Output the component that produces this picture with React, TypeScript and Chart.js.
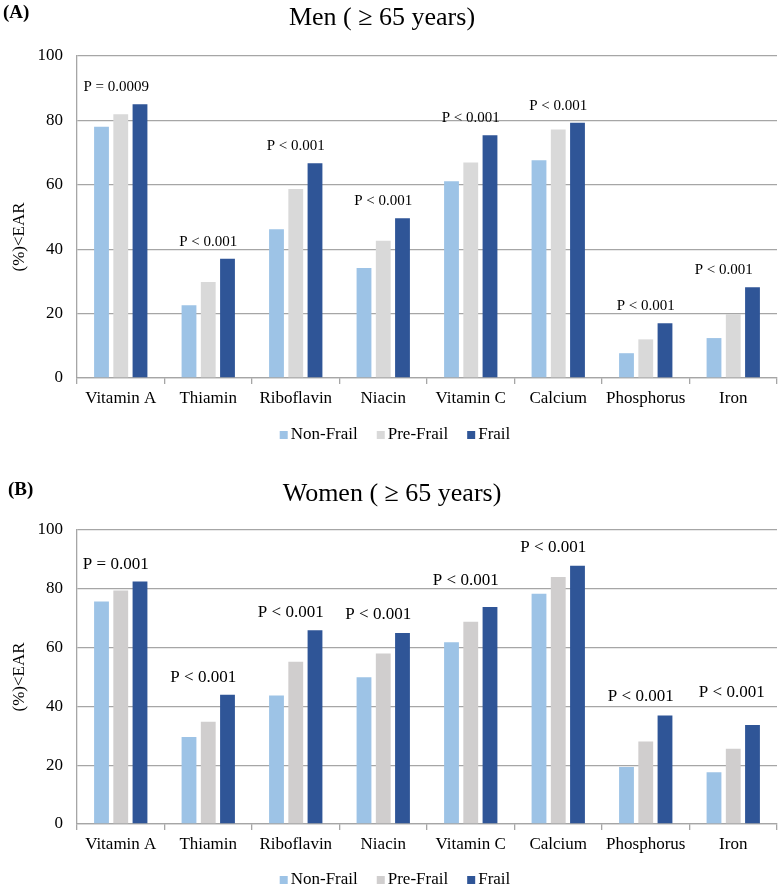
import { useEffect, useRef } from "react";
import { Chart, registerables } from "chart.js";

Chart.register(...registerables);

// ---- data ----
const nutrients = ["Vitamin A", "Thiamin", "Riboflavin", "Niacin", "Vitamin C", "Calcium", "Phosphorus", "Iron"];
const groupNames = ["Non-Frail", "Pre-Frail", "Frail"];
const yTickValues = [0, 20, 40, 60, 80, 100];
const yAxisTitle = "(%)<EAR";

const menNonFrail = [78.0, 22.6, 46.2, 34.2, 61.1, 67.6, 7.7, 12.4];
const menPreFrail = [81.9, 29.8, 58.7, 42.6, 66.9, 77.2, 12.0, 19.9];
const menFrail = [85.0, 37.0, 66.7, 49.6, 75.4, 79.3, 17.0, 28.2];
const menPValues = ["P = 0.0009", "P < 0.001", "P < 0.001", "P < 0.001", "P < 0.001", "P < 0.001", "P < 0.001", "P < 0.001"];

const womenNonFrail = [75.7, 29.6, 43.7, 49.9, 61.8, 78.3, 19.4, 17.6];
const womenPreFrail = [79.4, 34.8, 55.2, 58.0, 68.8, 84.0, 28.1, 25.6];
const womenFrail = [82.5, 44.0, 65.9, 65.0, 73.8, 87.8, 36.9, 33.7];
const womenPValues = ["P = 0.001", "P < 0.001", "P < 0.001", "P < 0.001", "P < 0.001", "P < 0.001", "P < 0.001", "P < 0.001"];

// ---- styling ----
const SERIF = '"Liberation Serif", "Times New Roman", serif';
const GRID = "#a6a6a6";
const LIGHT_BLUE = "#9dc3e6";
const DARK_BLUE = "#2f5597";

type PanelProps = {
  tag: string;
  title: string;
  series: number[][];
  pValues: string[];
  top: number;
  height: number;
  plotTop: number;
  plotBottom: number;
  tagX: number;
  tagBase: number;
  titleX: number;
  titleBase: number;
  yTitleY: number;
  pFont: number;
  pLift: number[];
  pShift: number[];
  preFrailColor: string;
  legendY: number;
};

function Panel(props: PanelProps) {
  const ref = useRef<HTMLCanvasElement | null>(null);

  useEffect(() => {
    const canvas = ref.current;
    if (!canvas) return;
    const p = props;
    const colors = [LIGHT_BLUE, p.preFrailColor, DARK_BLUE];

    const annotate = {
      id: "panelText",
      afterDraw(chart: Chart) {
        const ctx = chart.ctx;
        const xs = chart.scales.x;
        const ys = chart.scales.y;
        ctx.save();
        ctx.fillStyle = "#000";

        // panel tag
        ctx.font = `bold 19px ${SERIF}`;
        ctx.textAlign = "left";
        ctx.textBaseline = "alphabetic";
        ctx.fillText(p.tag, p.tagX, p.tagBase);

        // title
        ctx.font = `26px ${SERIF}`;
        ctx.textAlign = "center";
        ctx.fillText(p.title, p.titleX, p.titleBase);

        // y axis title
        ctx.save();
        ctx.translate(20, p.yTitleY);
        ctx.rotate(-Math.PI / 2);
        ctx.font = `17px ${SERIF}`;
        ctx.textAlign = "center";
        ctx.textBaseline = "middle";
        ctx.fillText(yAxisTitle, 0, 0);
        ctx.restore();

        // significance labels above each group
        ctx.font = `${p.pFont}px ${SERIF}`;
        ctx.textAlign = "center";
        ctx.textBaseline = "middle";
        p.pValues.forEach((label, i) => {
          const peak = Math.max(...p.series.map((s) => s[i]));
          const x = xs.getPixelForValue(i) + p.pShift[i];
          const y = ys.getPixelForValue(peak) - p.pLift[i];
          ctx.fillText(label, x, y);
        });

        // legend
        ctx.font = `17px ${SERIF}`;
        const box = 8;
        const gap = 3;
        const spacing = 19;
        const widths = groupNames.map((n) => box + gap + ctx.measureText(n).width);
        const total = widths.reduce((a, b) => a + b, 0) + spacing * (groupNames.length - 1);
        let x = 395 - total / 2;
        ctx.textAlign = "left";
        groupNames.forEach((n, i) => {
          ctx.fillStyle = colors[i];
          ctx.fillRect(x, p.legendY - box / 2, box, box);
          ctx.fillStyle = "#000";
          ctx.fillText(n, x + box + gap, p.legendY);
          x += widths[i] + spacing;
        });
        ctx.restore();
      },
    };

    const chart = new Chart(canvas, {
      type: "bar",
      data: {
        labels: nutrients,
        datasets: groupNames.map((name, i) => ({
          label: name,
          data: p.series[i],
          backgroundColor: colors[i],
          borderWidth: 0,
          categoryPercentage: 0.66,
          barPercentage: 0.77,
        })),
      },
      options: {
        animation: false,
        responsive: false,
        maintainAspectRatio: false,
        layout: { padding: { top: p.plotTop, right: 3, left: 0, bottom: 0 } },
        plugins: {
          legend: { display: false },
          title: { display: false },
          tooltip: { enabled: false },
        },
        scales: {
          x: {
            grid: {
              offset: true,
              drawOnChartArea: false,
              drawTicks: true,
              tickLength: 6,
              color: GRID,
              lineWidth: 1.3,
            },
            border: { color: GRID, width: 1.3 },
            ticks: {
              font: { family: SERIF, size: 17 },
              color: "#000",
              padding: 4,
              maxRotation: 0,
              autoSkip: false,
            },
            afterFit: (s: any) => {
              s.height = p.height - p.plotBottom;
            },
          },
          y: {
            min: 0,
            max: 100,
            afterBuildTicks: (s: any) => {
              s.ticks = yTickValues.map((v) => ({ value: v }));
            },
            grid: { color: GRID, lineWidth: 1.3, drawTicks: false },
            border: { display: true, color: GRID, width: 1.3 },
            ticks: {
              font: { family: SERIF, size: 17 },
              color: "#000",
              padding: 14,
            },
            afterFit: (s: any) => {
              s.width = 77;
            },
          },
        },
      },
      plugins: [annotate],
    });

    return () => chart.destroy();
  }, []);

  return (
    <canvas
      ref={ref}
      width={780}
      height={props.height}
      style={{ position: "absolute", left: 0, top: props.top, width: 780, height: props.height, display: "block" }}
    />
  );
}

export default function App() {
  return (
    <div style={{ position: "absolute", left: 0, top: 0, width: 780, height: 890, background: "#fff", overflow: "hidden" }}>
      <Panel
        tag="(A)"
        title="Men ( ≥ 65 years)"
        series={[menNonFrail, menPreFrail, menFrail]}
        pValues={menPValues}
        top={0}
        height={455}
        plotTop={56}
        plotBottom={378}
        tagX={3}
        tagBase={18}
        titleX={382}
        titleBase={25}
        yTitleY={237}
        pFont={15}
        pLift={[17, 17, 17, 17, 17, 17, 17, 17]}
        pShift={[-4.5, 0, 0, 0, 0, 0, 0, -9.5]}
        preFrailColor="#d9d9d9"
        legendY={435}
      />
      <Panel
        tag="(B)"
        title="Women ( ≥ 65 years)"
        series={[womenNonFrail, womenPreFrail, womenFrail]}
        pValues={womenPValues}
        top={470}
        height={420}
        plotTop={60}
        plotBottom={354}
        tagX={8}
        tagBase={25}
        titleX={392}
        titleBase={31}
        yTitleY={207}
        pFont={17}
        pLift={[17, 17, 18, 18, 26, 18, 19, 32]}
        pShift={[-5, -5, -5, -5, -5, -5, -5, -1.5]}
        preFrailColor="#d0cece"
        legendY={410}
      />
    </div>
  );
}
